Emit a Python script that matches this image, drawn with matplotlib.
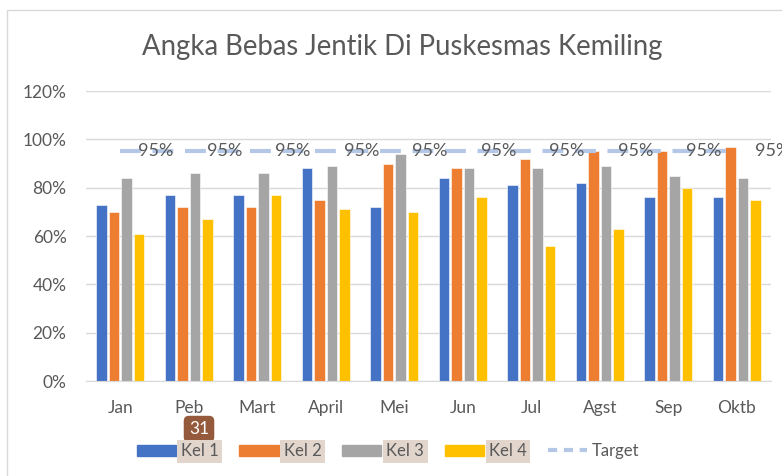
import matplotlib
matplotlib.use("Agg")
import matplotlib.pyplot as plt
import numpy as np
from matplotlib.patches import Rectangle
from matplotlib.lines import Line2D

months = ["Jan", "Peb", "Mart", "April", "Mei", "Jun", "Jul", "Agst", "Sep", "Oktb"]
kel1 = [73, 77, 77, 88, 72, 84, 81, 82, 76, 76]
kel2 = [70, 72, 72, 75, 90, 88, 92, 95, 95, 97]
kel3 = [84, 86, 86, 89, 94, 88, 88, 89, 85, 84]
kel4 = [61, 67, 77, 71, 70, 76, 56, 63, 80, 75]
target = [95] * 10
series_names = ["Kel 1", "Kel 2", "Kel 3", "Kel 4"]
yticks = [0, 20, 40, 60, 80, 100, 120]

colors = ["#4472C4", "#ED7D31", "#A5A5A5", "#FFC000"]
target_color = "#B4C7E7"
text_color = "#595959"
FONT = ["Lato", "DejaVu Sans"]
plt.rcParams['font.family'] = FONT

W, H = 782, 476
fig = plt.figure(figsize=(W / 100, H / 100), dpi=100)

# chart border (cropped)
fig.patches.append(Rectangle((7 / W, -0.05), 1.1, 1 - 10 / H + 0.05, transform=fig.transFigure,
                             fill=False, edgecolor="#D9D9D9", linewidth=1.0))

ax = fig.add_axes([86 / W, 1 - 381 / H, (771 - 86) / W, (381 - 91) / H])
x = np.arange(len(months))
step = 0.182
width = 0.148
for i, (vals, c, name) in enumerate(zip([kel1, kel2, kel3, kel4], colors, series_names)):
    ax.bar(x + (i - 1.5) * step, np.array(vals) / 100, width=width, color=c,
           edgecolor="white", linewidth=0.4, label=name, zorder=2)

ax.plot(x, np.array(target) / 100, color=target_color, linewidth=3, dashes=(5, 2.8),
        label="Target", zorder=3)
for xi, t in zip(x, target):
    ax.annotate(f"{t}%", (xi, t / 100), xytext=(18, 0), textcoords="offset pixels",
                ha="left", va="center", fontsize=13, color=text_color, zorder=4)

ax.set_xlim(-0.5, len(months) - 0.5)
ax.set_ylim(0, 1.2)
ax.set_yticks([v / 100 for v in yticks])
ax.set_yticklabels([f"{v}%" for v in yticks])
ax.set_xticks(x)
ax.set_xticklabels(months)
ax.tick_params(axis="both", length=0, labelsize=12.5, labelcolor=text_color)
ax.tick_params(axis="y", pad=14)
ax.tick_params(axis="x", pad=14)
ax.grid(axis="y", color="#D9D9D9", linewidth=1, zorder=0)
ax.set_axisbelow(True)
for s in ["top", "right", "left"]:
    ax.spines[s].set_visible(False)
ax.spines["bottom"].set_color("#D9D9D9")

fig.text(402 / W, 1 - 47 / H, "Angka Bebas Jentik Di Puskesmas Kemiling", ha="center", va="center",
         fontsize=19.8, color=text_color)

handles = [Rectangle((0, 0), 1, 1, color=c) for c in colors]
handles.append(Line2D([0], [0], color=target_color, linewidth=3, dashes=(2.2, 1.6)))
leg = fig.legend(handles, series_names + ["Target"], loc="center", ncol=5,
                 bbox_to_anchor=(388 / W, 1 - 451 / H), frameon=False, fontsize=12,
                 handlelength=2.35, handleheight=0.62, handletextpad=0.3, columnspacing=1.25)
for t in leg.get_texts():
    t.set_color(text_color)
for t in leg.get_texts()[:4]:
    t.set_bbox(dict(facecolor="#E2D5CC", edgecolor="none", pad=2.5))

fig.text(199 / W, 1 - 429 / H, "31", ha="center", va="center", fontsize=12.5, color="white",
         bbox=dict(boxstyle="round,pad=0.3,rounding_size=0.3", facecolor="#955A3C", edgecolor="none"))

fig.savefig("out.png", dpi=100)
